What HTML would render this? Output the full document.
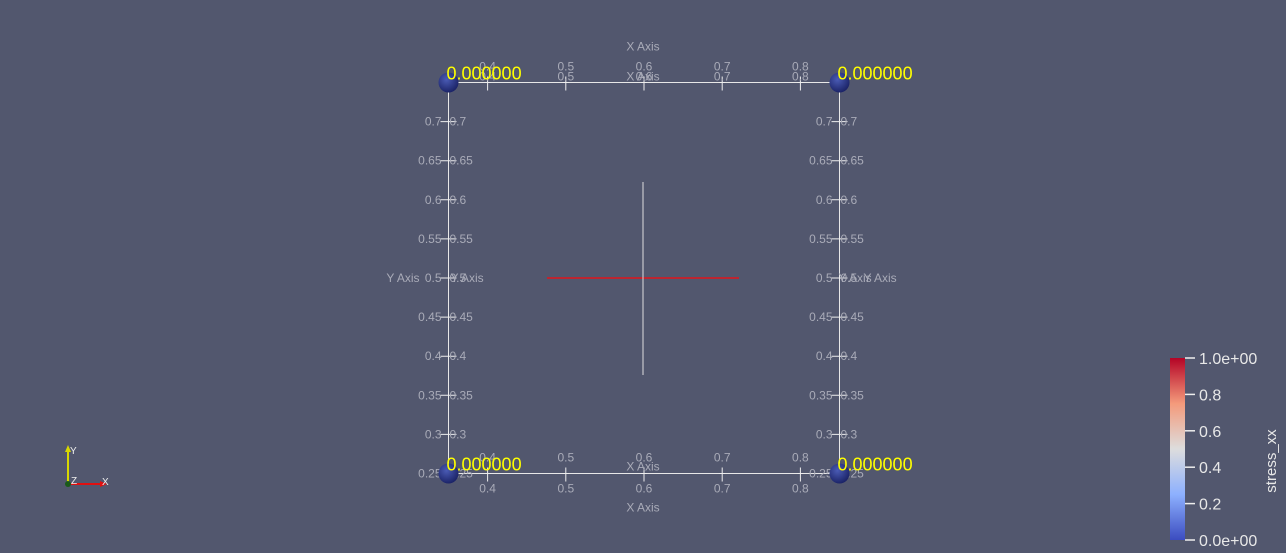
<!DOCTYPE html>
<html><head><meta charset="utf-8"><style>
html,body{margin:0;padding:0;background:#52576e;overflow:hidden}
svg{display:block;font-family:"Liberation Sans",sans-serif}
</style></head><body>
<svg id="c" width="1286" height="553">
<defs>
<radialGradient id="sph" cx="40%" cy="35%" r="65%"><stop offset="0" stop-color="#4a5bb5"/><stop offset="1" stop-color="#1c2468"/></radialGradient>
<linearGradient id="cmap" x1="0" y1="1" x2="0" y2="0">
<stop offset="0" stop-color="#3b4cc0"/><stop offset="0.25" stop-color="#8db0fe"/><stop offset="0.5" stop-color="#dddddd"/><stop offset="0.75" stop-color="#f49a7b"/><stop offset="1" stop-color="#b40426"/></linearGradient>
</defs>
<g id="g"></g>
<line x1="547" y1="278" x2="739" y2="278" stroke="#e0151b" stroke-width="1.5"/>
<line x1="643" y1="182" x2="643" y2="375" stroke="#dddddd" stroke-width="1"/>
<g>
<rect x="1170" y="358" width="15" height="182" fill="url(#cmap)"/>
<text x="1264" y="449" fill="#e8e8e8" font-size="15" transform="rotate(-90 1276 449)" text-anchor="middle">stress_xx</text>
</g>
<g>
<line x1="68" y1="484" x2="68" y2="450" stroke="#d8d800" stroke-width="2"/>
<polygon points="65,452 71,452 68,445" fill="#d8d800"/>
<line x1="68" y1="484" x2="102" y2="484" stroke="#e01010" stroke-width="2"/>
<polygon points="100,481 100,487 107,484" fill="#e01010"/>
<circle cx="68" cy="484" r="3" fill="#1a5a1a"/>
<text x="70" y="454" fill="#eee" font-size="10">Y</text>
<text x="71" y="484" fill="#eee" font-size="10">Z</text>
<text x="102" y="485" fill="#eee" font-size="10">X</text>
</g>
</svg>
<script>
const xTicks=[0.4,0.5,0.6,0.7,0.8];
const yTicks=[0.25,0.3,0.35,0.4,0.45,0.5,0.55,0.6,0.65,0.7];
const cbTicks=["0.0e+00","0.2","0.4","0.6","0.8","1.0e+00"];
const cbVals=[0,0.2,0.4,0.6,0.8,1.0];
const cornerVals=["0.000000","0.000000","0.000000","0.000000"];
const sx=v=>448.5+(v-0.35)*782;
const sy=v=>473.5-(v-0.25)*782;
const ns="http://www.w3.org/2000/svg";
const g=document.getElementById('g');
function mk(t,a,txt){const e=document.createElementNS(ns,t);for(const k in a)e.setAttribute(k,a[k]);if(txt!==undefined)e.textContent=txt;g.appendChild(e);return e;}
const tc="#a9abb8";
const fs=12;
const box=mk('rect',{x:sx(0.35),y:sy(0.75),width:sx(0.85)-sx(0.35),height:sy(0.25)-sy(0.75),fill:'none',stroke:'#e8e8e8','stroke-width':1});


[sy(0.75),sy(0.25)].forEach((yy,i)=>{
 xTicks.forEach(v=>{
  const l=mk('path',{d:`M${sx(v)} ${yy-6}V${yy+8}M${sx(v)-3} ${yy}H${sx(v)+3}`,stroke:'#eee','stroke-width':1});
  
  
  const t1=mk('text',{x:sx(v),y:yy-12,fill:tc,'font-size':fs,'text-anchor':'middle'},String(v));
  
  
  const t2=mk('text',{x:sx(v),y:i===0?yy-2:yy+19,fill:tc,'font-size':fs,'text-anchor':'middle'},String(v));
  
  
 });
 const a=mk('text',{x:643,y:i===0?yy-32:yy+38,fill:tc,'font-size':fs,'text-anchor':'middle'},'X Axis');
 
 
 const b=mk('text',{x:643,y:i===0?yy-2:yy-3,fill:tc,'font-size':fs,'text-anchor':'middle'},'X Axis');
 
 
});
[sx(0.35),sx(0.85)].forEach((xx,i)=>{
 yTicks.forEach(v=>{
  const yy=sy(v);
  const l=mk('path',{d:`M${xx-8} ${yy}H${xx+8}M${xx} ${yy-3}V${yy+3}`,stroke:'#eee','stroke-width':1});
  
  
  const t1=mk('text',{x:xx-7,y:yy+4,fill:tc,'font-size':fs,'text-anchor':'end'},String(v));
  
  
  const t2=mk('text',{x:xx+1,y:yy+4,fill:tc,'font-size':fs},String(v));
  
  
 });
 const a=mk('text',{x:i===0?xx-29:xx+24,y:282,fill:tc,'font-size':fs,'text-anchor':i===0?'end':'start'},'Y Axis');
 
 
 const b=mk('text',{x:i===0?xx+2:xx-1,y:282,fill:tc,'font-size':fs},'Y Axis');
 
 
});
const corners=[[0.35,0.75],[0.85,0.75],[0.35,0.25],[0.85,0.25]];
corners.forEach((c,i)=>{
 const s=mk('circle',{cx:sx(c[0]),cy:sy(c[1]),r:10,fill:'url(#sph)'});
 
 
 const t=mk('text',{x:sx(c[0])-2,y:sy(c[1])-3,fill:'#ffff00','font-size':18},cornerVals[i]);
 
 
});
cbVals.forEach((v,i)=>{
 const yy=540-v*182;
 const l=mk('line',{x1:1185,y1:yy,x2:1195,y2:yy,stroke:'#eee','stroke-width':1.5});
 
 
 const t=mk('text',{x:1199,y:yy+6,fill:'#e8e8e8','font-size':16},cbTicks[i]);
 
 
});
</script>
</body></html>
